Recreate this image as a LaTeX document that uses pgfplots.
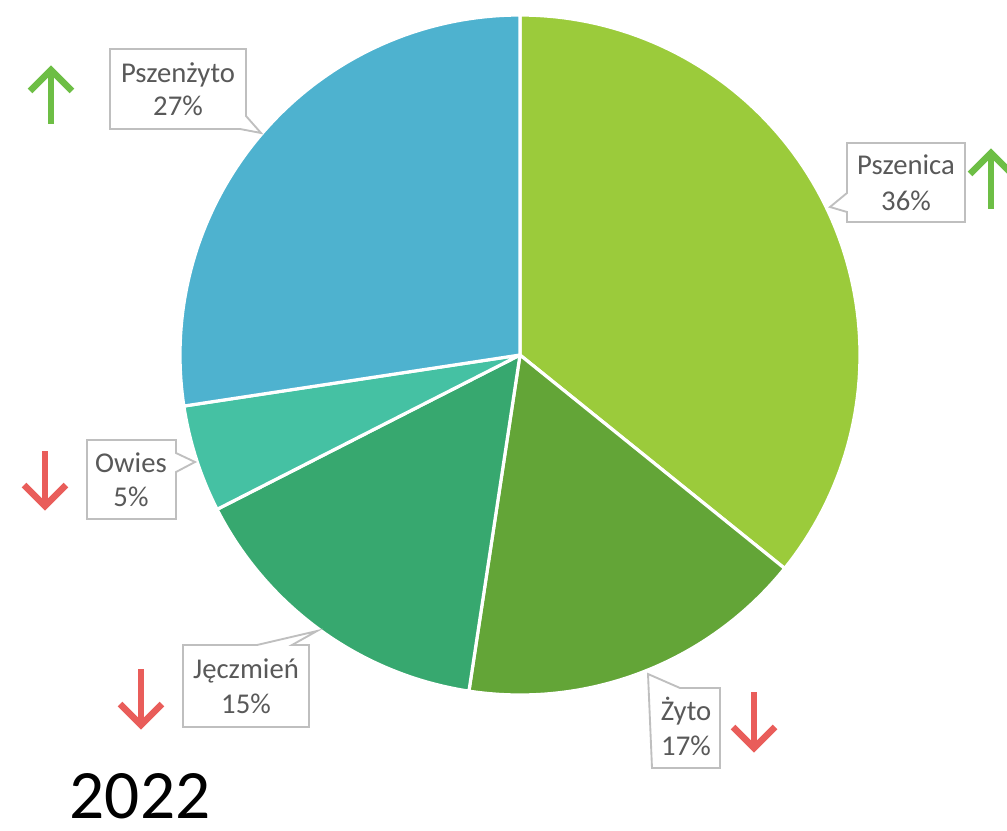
\documentclass[border=0pt]{standalone}
\usepackage{pgfplots}
\pgfplotsset{compat=1.18}
\usepackage{pgfplotstable}
\usepackage{fontspec}
\setmainfont{Carlito}

\definecolor{cPszenica}{HTML}{9BCB3B}
\definecolor{cZyto}{HTML}{63A537}
\definecolor{cJeczmien}{HTML}{37A86F}
\definecolor{cOwies}{HTML}{45C1A3}
\definecolor{cPszenzyto}{HTML}{4EB2CF}
\definecolor{labtxt}{HTML}{595959}
\definecolor{labbox}{HTML}{BFBFBF}
\definecolor{upgreen}{HTML}{6DBE45}
\definecolor{downred}{HTML}{E95D5A}

% share of each crop, clockwise from the top
\pgfplotstableread{
crop value
Pszenica 35.8
Zyto 16.6
Jeczmien 15.1
Owies 5.1
Pszenzyto 27.4
}\cropdata

\begin{document}
\begin{tikzpicture}
\pgfplotstablegetelem{0}{value}\of\cropdata \let\vA\pgfplotsretval
\pgfplotstablegetelem{1}{value}\of\cropdata \let\vB\pgfplotsretval
\pgfplotstablegetelem{2}{value}\of\cropdata \let\vC\pgfplotsretval
\pgfplotstablegetelem{3}{value}\of\cropdata \let\vD\pgfplotsretval
\pgfplotstablegetelem{4}{value}\of\cropdata \let\vE\pgfplotsretval
\pgfmathsetmacro\aA{90-3.6*\vA}
\pgfmathsetmacro\aB{\aA-3.6*\vB}
\pgfmathsetmacro\aC{\aB-3.6*\vC}
\pgfmathsetmacro\aD{\aC-3.6*\vD}
\pgfmathsetmacro\aE{\aD-3.6*\vE}
\begin{axis}[
    hide axis, scale only axis,
    width=755.25pt, height=623.25pt,
    xmin=0, xmax=1007, ymin=0, ymax=831,
    y dir=reverse, clip=false,
    samples=90,
    wedge/.style={draw=white, line width=2.4pt, line join=round}]
\addplot[wedge, fill=cPszenica, domain=\aA:90] ({520+340*cos(x)},{355-340*sin(x)}) -- (axis cs:520,355) -- cycle;
\addplot[wedge, fill=cZyto, domain=\aB:\aA] ({520+340*cos(x)},{355-340*sin(x)}) -- (axis cs:520,355) -- cycle;
\addplot[wedge, fill=cJeczmien, domain=\aC:\aB] ({520+340*cos(x)},{355-340*sin(x)}) -- (axis cs:520,355) -- cycle;
\addplot[wedge, fill=cOwies, domain=\aD:\aC] ({520+340*cos(x)},{355-340*sin(x)}) -- (axis cs:520,355) -- cycle;
\addplot[wedge, fill=cPszenzyto, domain=\aE:\aD] ({520+340*cos(x)},{355-340*sin(x)}) -- (axis cs:520,355) -- cycle;

% callout boxes
\begin{scope}[draw=labbox, fill=white, line width=1.4pt, line join=miter]
\filldraw (axis cs:110,49) -- (axis cs:246,49) -- (axis cs:246,116) -- (axis cs:261,133) -- (axis cs:240,129) -- (axis cs:110,129) -- cycle;
\filldraw (axis cs:847,143) -- (axis cs:965,143) -- (axis cs:965,222) -- (axis cs:847,222) -- (axis cs:847,212) -- (axis cs:830,207) -- (axis cs:847,193) -- cycle;
\filldraw (axis cs:87,440) -- (axis cs:176,440) -- (axis cs:176,453) -- (axis cs:195,462) -- (axis cs:176,472) -- (axis cs:176,519) -- (axis cs:87,519) -- cycle;
\filldraw (axis cs:183,645) -- (axis cs:257,645) -- (axis cs:317,631) -- (axis cs:292,645) -- (axis cs:309,645) -- (axis cs:309,727) -- (axis cs:183,727) -- cycle;
\filldraw (axis cs:648,674) -- (axis cs:680,688) -- (axis cs:720,688) -- (axis cs:720,768) -- (axis cs:652,768) -- cycle;
\end{scope}

\begin{scope}[every node/.style={anchor=base, text=labtxt, font=\fontsize{21.5pt}{24pt}\selectfont, inner sep=0pt}]
\node at (axis cs:178,83) {Pszenżyto};
\node at (axis cs:178,116) {27\%};
\node at (axis cs:906,175) {Pszenica};
\node at (axis cs:906,210) {36\%};
\node at (axis cs:131,472) {Owies};
\node at (axis cs:131,506) {5\%};
\node at (axis cs:246,678) {Jęczmień};
\node at (axis cs:246,713) {15\%};
\node at (axis cs:686,720) {Żyto};
\node at (axis cs:686,755) {17\%};
\end{scope}

% trend arrows (clipped to the picture, the right one runs off the edge)
\begin{scope}
\clip (axis cs:0,0) rectangle (axis cs:1007,831);
\begin{scope}[line width=4.9pt, line join=miter]
\draw[upgreen] (axis cs:51,124) -- (axis cs:51,70);
\draw[upgreen] (axis cs:30,91) -- (axis cs:51,70) -- (axis cs:72,91);
\draw[upgreen] (axis cs:991,209) -- (axis cs:991,153);
\draw[upgreen] (axis cs:970,174) -- (axis cs:991,153) -- (axis cs:1012,174);
\draw[downred] (axis cs:45,451) -- (axis cs:45,506);
\draw[downred] (axis cs:24,485) -- (axis cs:45,506) -- (axis cs:66,485);
\draw[downred] (axis cs:141,669) -- (axis cs:141,725);
\draw[downred] (axis cs:120,704) -- (axis cs:141,725) -- (axis cs:162,704);
\draw[downred] (axis cs:754,692) -- (axis cs:754,748);
\draw[downred] (axis cs:733,727) -- (axis cs:754,748) -- (axis cs:775,727);
\end{scope}
\end{scope}
\node[anchor=base, font=\fontsize{52pt}{60pt}\selectfont, inner sep=0pt] at (axis cs:140,818) {2022};
\end{axis}
\end{tikzpicture}
\end{document}
